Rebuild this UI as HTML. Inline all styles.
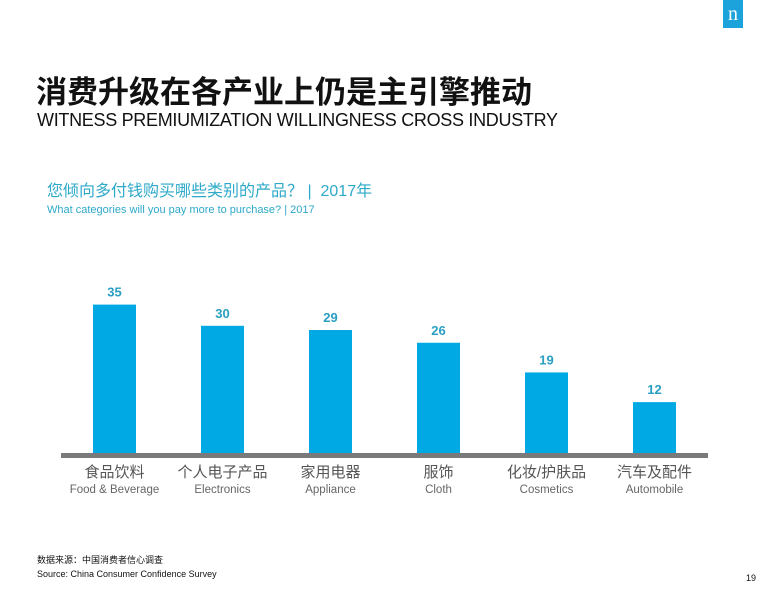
<!DOCTYPE html>
<html><head><meta charset="utf-8"><style>
body{margin:0;background:#fff;}
#root{position:relative;width:769px;height:593px;overflow:hidden;background:#fff;font-family:"Liberation Sans","Noto Sans CJK SC",sans-serif;}
.abs{position:absolute;white-space:nowrap;}
</style></head><body>
<div id="root">
<div class="abs" style="left:723px;top:0;width:20px;height:28px;background:#1ca3dc;color:#fff;font-family:'Liberation Serif',serif;font-size:20px;text-align:center;line-height:28px;">n</div>
<div class="abs" style="left:36px;top:72px;font-size:31px;font-weight:bold;color:#111;font-family:'Noto Sans CJK SC',sans-serif;line-height:36px;">消费升级在各产业上仍是主引擎推动</div>
<div class="abs" style="left:37px;top:110px;font-size:18px;color:#111;line-height:20px;letter-spacing:-0.3px;">WITNESS PREMIUMIZATION WILLINGNESS CROSS INDUSTRY</div>
<div class="abs" style="left:47px;top:182px;font-size:16px;color:#2ea9c9;line-height:20px;font-family:'Liberation Sans','Noto Sans CJK SC',sans-serif;">您倾向多付钱购买哪些类别的产品？ |&nbsp; 2017年</div>
<div class="abs" style="left:47px;top:203px;font-size:11px;color:#2ea9c9;line-height:14px;">What categories will you pay more to purchase? | 2017</div>
<svg class="abs" id="chart" style="left:0;top:0" width="769" height="593"></svg>
<div class="abs" style="left:37px;top:554px;font-size:9px;color:#111;font-family:'Noto Sans CJK SC',sans-serif;line-height:12px;">数据来源：中国消费者信心调查</div>
<div class="abs" style="left:37px;top:568px;font-size:9px;color:#111;line-height:12px;">Source: China Consumer Confidence Survey</div>
<div class="abs" style="left:746px;top:572px;font-size:9px;color:#111;line-height:12px;">19</div>
</div>
<script>
const categoriesCn=["食品饮料","个人电子产品","家用电器","服饰","化妆/护肤品","汽车及配件"];
const categoriesEn=["Food & Beverage","Electronics","Appliance","Cloth","Cosmetics","Automobile"];
const values=[35,30,29,26,19,12];
const NS="http://www.w3.org/2000/svg";
const svg=document.getElementById('chart');
const baseY=453, unit=4.24, x0=114.5, step=108, bw=43;
const xs=i=>x0+i*step;
const ys=v=>baseY-v*unit;
function mk(t,a){const e=document.createElementNS(NS,t);for(const k in a)e.setAttribute(k,a[k]);svg.appendChild(e);return e;}
values.forEach((v,i)=>{
  const r=mk('rect',{x:xs(i)-bw/2,y:ys(v),width:bw,height:baseY-ys(v),fill:'#00a8e4'});
  
  
  const t=mk('text',{x:xs(i),y:ys(v)-8,'text-anchor':'middle','font-size':13,'font-weight':'bold',fill:'#2a9fc2','font-family':'Liberation Sans,sans-serif'});
  t.textContent=v;
  
  
  const c=mk('text',{x:xs(i),y:477,'text-anchor':'middle','font-size':15,fill:'#555','font-family':'Liberation Sans,Noto Sans CJK SC,sans-serif'});
  c.textContent=categoriesCn[i];
  
  
  const e=mk('text',{x:xs(i),y:493,'text-anchor':'middle','font-size':11.5,fill:'#666','font-family':'Liberation Sans,sans-serif'});
  e.textContent=categoriesEn[i];
  
  
});
const ax=mk('rect',{x:61,y:baseY,width:647,height:5,fill:'#7a7a7a'});


</script>
</body></html>
